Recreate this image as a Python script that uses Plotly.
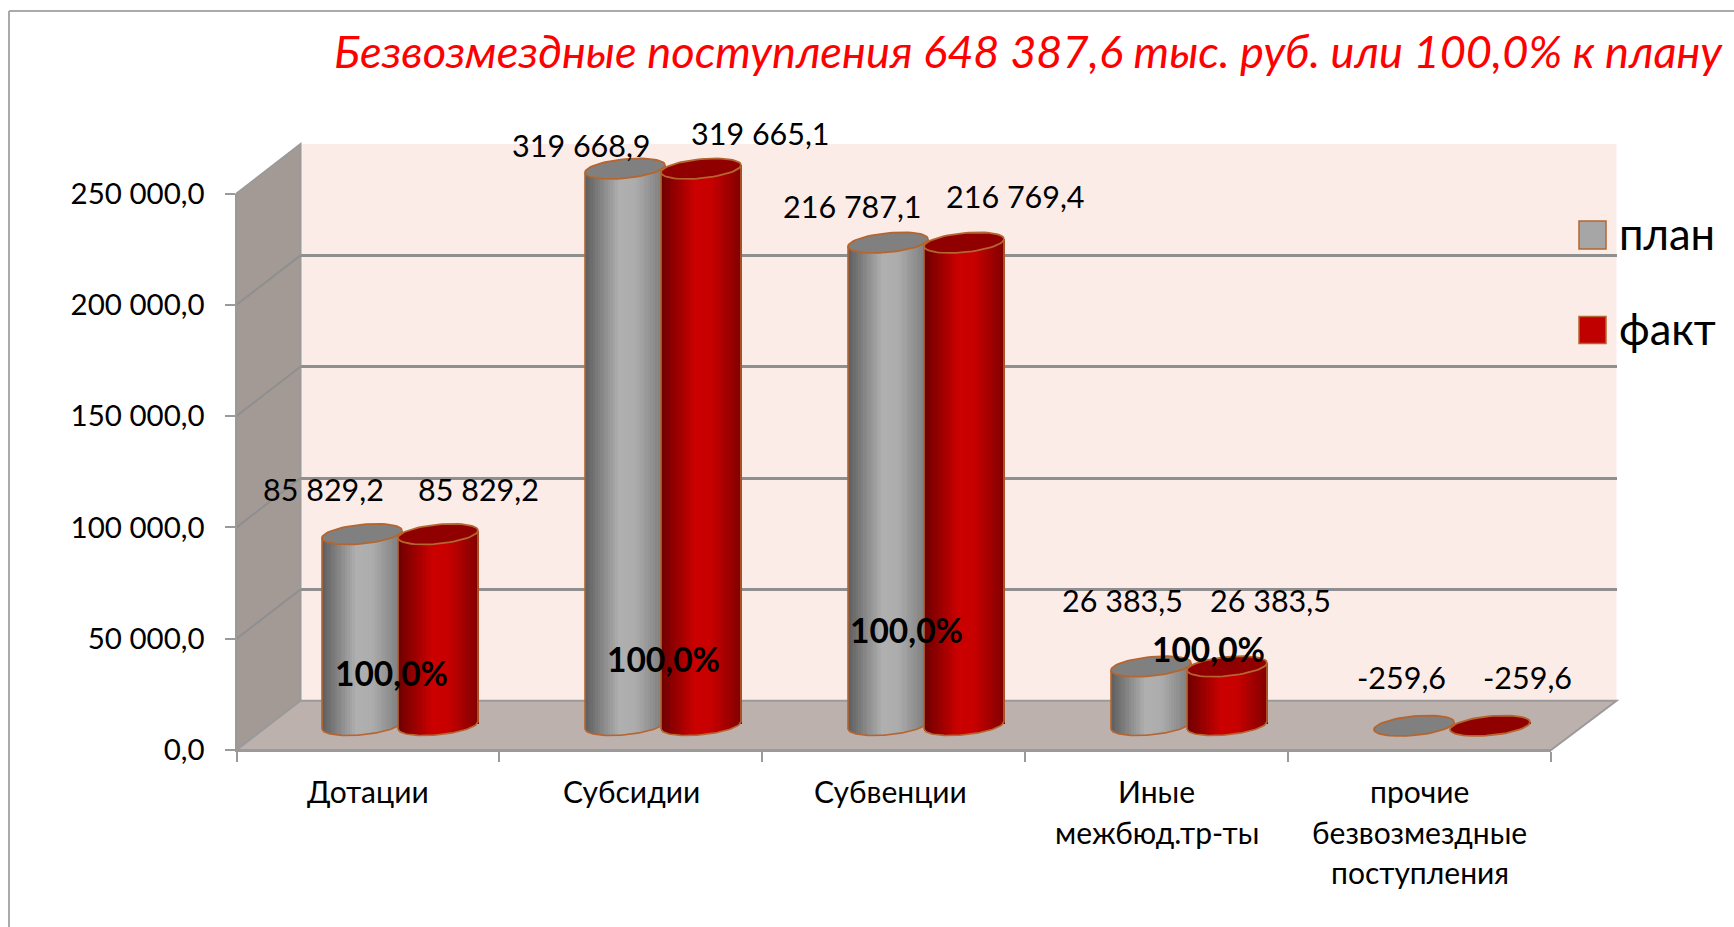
import numpy as np
import plotly.graph_objects as go

# ---------- data ----------
categories = ["Дотации", "Субсидии", "Субвенции", "Иные<br>межбюд.тр-ты",
              "прочие<br>безвозмездные<br>поступления"]
plan_values = [85829.2, 319668.9, 216787.1, 26383.5, -259.6]
fact_values = [85829.2, 319665.1, 216769.4, 26383.5, -259.6]
percent_labels = ["100,0%", "100,0%", "100,0%", "100,0%"]
y_ticks = [0, 50000, 100000, 150000, 200000, 250000]
title_text = "Безвозмездные поступления 648 387,6 тыс. руб. или 100,0% к плану"
series_names = ["план", "факт"]

# ---------- geometry (pixels of the 1734x927 page) ----------
W, H = 1734, 927
def X(p): return p / W
def Y(p): return 1 - p / H

AXIS_MAX = 250000
FRONT_L, FRONT_R, FRONT_0, FRONT_TOP = 236.5, 1551, 750, 193.5
BACK_L, BACK_R, BACK_0, BACK_TOP = 300.5, 1616.5, 700.7, 144
MID_L, MID_R, MID_0 = 268.5, 1583.5, 725.2
PX_PER_UNIT = (FRONT_0 - FRONT_TOP) / AXIS_MAX
U_PER_PX = 1 / PX_PER_UNIT
CAT_PX = (MID_R - MID_L) / 5
A_PX, B_PX, TILT_PX = 40.0, 9.6, 3.7
OFFSET_PX = 38.0
N_STRIPS = 32

PLOT_TOP, PLOT_BOTTOM = 125, 765
y3_range = [(MID_0 - PLOT_BOTTOM) * U_PER_PX, (MID_0 - PLOT_TOP) * U_PER_PX]

FONT = "Lato, Carlito, 'Open Sans', sans-serif"
GRID = "#8f8f8f"
EDGE = "#b5652f"

GRADIENTS = {
    "план": [(-1.0, (0x5e, 0x5e, 0x5e)), (-0.15, (0xb0, 0xb0, 0xb0)), (0.25, (0xad, 0xad, 0xad)), (1.0, (0x7a, 0x7a, 0x7a))],
    "факт": [(-1.0, (0x6e, 0x00, 0x00)), (-0.15, (0xcc, 0x00, 0x00)), (0.25, (0xc8, 0x00, 0x00)), (1.0, (0x80, 0x00, 0x00))],
}
CAP = {"план": "#808080", "факт": "#900000"}
SWATCH = {"план": "#a6a6a6", "факт": "#c00000"}
SERIES_AXES = {"план": ("x3", "y3"), "факт": ("x4", "y4")}


def grad(name, u):
    stops = GRADIENTS[name]
    xs = [s[0] for s in stops]
    rgb = [np.interp(u, xs, [s[1][c] for s in stops]) for c in range(3)]
    return "rgb(%d,%d,%d)" % tuple(rgb)


fig = go.Figure()

# back-wall gridlines need a subplot of their own
fig.add_trace(go.Scatter(x=[None], y=[None], xaxis="x", yaxis="y", showlegend=False, hoverinfo="skip"))
fig.add_trace(go.Scatter(x=[None], y=[None], xaxis="x2", yaxis="y2", showlegend=False, hoverinfo="skip"))

centers = np.arange(len(categories)) + 0.5
edges = np.linspace(-1, 1, N_STRIPS + 1)
mid_u = (edges[:-1] + edges[1:]) / 2
a = A_PX / CAT_PX
t = np.linspace(0, 2 * np.pi, 61)
arc_u = np.linspace(-1, 1, 41)

for name, vals, sign in zip(series_names, [plan_values, fact_values], [-1, 1]):
    xa, ya = SERIES_AXES[name]
    v = np.minimum(np.array(vals, dtype=float), AXIS_MAX)
    cx = centers + sign * OFFSET_PX / CAT_PX
    for u in mid_u:
        bottom = (TILT_PX * u - B_PX * np.sqrt(max(0, 1 - u * u))) * U_PER_PX
        top = v + TILT_PX * u * U_PER_PX
        fig.add_trace(go.Bar(
            x=cx + a * u, y=top - bottom, base=[bottom] * len(v),
            width=2 * a / N_STRIPS * 1.05, xaxis=xa, yaxis=ya,
            marker=dict(color=grad(name, u), line=dict(width=0)),
            showlegend=False, hoverinfo="skip"))
    ex, ey, ox, oy = [], [], [], []
    for c, val in zip(cx, v):
        ex += list(c + a * np.cos(t)) + [None]
        ey += list(val + (TILT_PX * np.cos(t) + B_PX * np.sin(t)) * U_PER_PX) + [None]
        ax_ = c + a * arc_u
        ay_ = (TILT_PX * arc_u - B_PX * np.sqrt(1 - arc_u ** 2)) * U_PER_PX
        ox += [c - a] + list(ax_) + [c + a, None]
        oy += [val - TILT_PX * U_PER_PX] + list(ay_) + [val + TILT_PX * U_PER_PX, None]
    fig.add_trace(go.Scatter(x=ox, y=oy, mode="lines", line=dict(color=EDGE, width=1.6),
                             xaxis=xa, yaxis=ya, showlegend=False, hoverinfo="skip"))
    fig.add_trace(go.Scatter(x=ex, y=ey, mode="lines", fill="toself", fillcolor=CAP[name],
                             line=dict(color=EDGE, width=1.8), xaxis=xa, yaxis=ya,
                             showlegend=False, hoverinfo="skip"))

# ---------- walls ----------
def poly(points, fill, line=None, width=0, layer="below"):
    path = "M" + " L".join(f"{X(x):.5f},{Y(y):.5f}" for x, y in points) + " Z"
    return dict(type="path", xref="paper", yref="paper", path=path, fillcolor=fill,
                line=dict(color=line or fill, width=width), layer=layer)

def seg(x0, y0, x1, y1, color=GRID, width=2, layer="below"):
    return dict(type="line", xref="paper", yref="paper", x0=X(x0), y0=Y(y0), x1=X(x1), y1=Y(y1),
                line=dict(color=color, width=width), layer=layer)

shapes = [
    seg(9, 11, W, 11, "#aaaaaa", 2),
    seg(9, 11, 9, H, "#aaaaaa", 2),
    poly([(BACK_L, BACK_TOP), (BACK_R, BACK_TOP), (BACK_R, BACK_0), (BACK_L, BACK_0)], "#fcece8"),
    poly([(FRONT_L, FRONT_TOP), (BACK_L, BACK_TOP), (BACK_L, BACK_0), (FRONT_L, FRONT_0)], "#a39a95", "#9a9a9a", 2),
    poly([(FRONT_L, FRONT_0), (FRONT_R, FRONT_0), (BACK_R, BACK_0), (BACK_L, BACK_0)], "#bdb1ae", "#9a9a9a", 2),
]
for v in y_ticks[1:-1]:
    yf = FRONT_0 - v * PX_PER_UNIT
    yb = BACK_0 - v * (BACK_0 - BACK_TOP) / AXIS_MAX
    shapes.append(seg(FRONT_L, yf, BACK_L, yb, "#8f8f8f", 2))

# legend
legend_y = {"план": (221, 249, 233), "факт": (316.5, 343.5, 328)}
annotations = []
for name in series_names:
    y0, y1, yc = legend_y[name]
    shapes.append(dict(type="rect", xref="paper", yref="paper", x0=X(1579), x1=X(1606), y0=Y(y1), y1=Y(y0),
                       fillcolor=SWATCH[name], line=dict(color=EDGE, width=1.5), layer="above"))
    annotations.append(dict(xref="paper", yref="paper", x=X(1617), y=Y(yc), text=name, showarrow=False,
                            xanchor="left", yanchor="middle", font=dict(family=FONT, size=43.5, color="#000")))

# ---------- text ----------
def fmt(v):
    return f"{v:,.1f}".replace(",", " ").replace(".", ",")

plan_pos = [(323, 489), (581, 145), (852, 206), (1122.5, 600), (1401, 677)]
fact_pos = [(478, 489), (760, 133), (1015, 196), (1270, 600), (1527, 677)]
for vals, pos in ((plan_values, plan_pos), (fact_values, fact_pos)):
    for v, (x, y) in zip(vals, pos):
        annotations.append(dict(xref="paper", yref="paper", x=X(x), y=Y(y), text=fmt(v), showarrow=False,
                                xanchor="center", yanchor="middle", font=dict(family=FONT, size=30.5, color="#000")))

pct_pos = [(391.5, 673), (663.5, 659), (906, 629.5), (1208, 649)]
for txt, (x, y) in zip(percent_labels, pct_pos):
    annotations.append(dict(xref="paper", yref="paper", x=X(x), y=Y(y), text=f"<b>{txt}</b>", showarrow=False,
                            xanchor="center", yanchor="middle", font=dict(family=FONT, size=33.5, color="#000")))

cat_w = (FRONT_R - FRONT_L) / 5
cat_shift = [0, 1, -3, 0, 0]
for i, cat in enumerate(categories):
    for j, line in enumerate(cat.split("<br>")):
        annotations.append(dict(xref="paper", yref="paper", x=X(FRONT_L + (i + 0.5) * cat_w + cat_shift[i]),
                                y=Y(791 + j * 40.5), text=line, showarrow=False, xanchor="center", yanchor="middle",
                                font=dict(family=FONT, size=30, color="#000")))

hidden = dict(showgrid=False, zeroline=False, showticklabels=False, ticks="", showline=False)

fig.update_layout(
    width=W, height=H, margin=dict(l=0, r=0, t=0, b=0, pad=0, autoexpand=False),
    paper_bgcolor="white", plot_bgcolor="rgba(0,0,0,0)",
    barmode="overlay", bargap=0, showlegend=False, separators=", ",
    font=dict(family=FONT, color="#000"),
    title=dict(text=f"<i>{title_text}</i>", x=1722 / W, xanchor="right", y=Y(52), yanchor="middle",
               xref="container", yref="container", automargin=False,
               font=dict(family=FONT, size=45.2, color="#ff0000")),
    xaxis=dict(domain=[X(BACK_L), X(BACK_R)], range=[0, 1], anchor="y", **hidden),
    yaxis=dict(domain=[Y(BACK_0), Y(BACK_TOP)], range=[0, AXIS_MAX], anchor="x", tickvals=y_ticks,
               showgrid=True, gridcolor=GRID, gridwidth=3, zeroline=False, showticklabels=False, ticks=""),
    xaxis2=dict(domain=[X(FRONT_L), X(FRONT_R)], range=[0, 5], anchor="y2", tickvals=list(range(6)),
                ticks="outside", ticklen=10, tickwidth=1.5, tickcolor="#9a9a9a", showticklabels=False,
                showgrid=False, zeroline=False, showline=True, linecolor="#9a9a9a", linewidth=2),
    yaxis2=dict(domain=[Y(FRONT_0), Y(FRONT_TOP)], range=[0, AXIS_MAX], anchor="x2", tickvals=y_ticks,
                tickformat=",.1f", ticks="outside", ticklen=10, tickwidth=1.5, tickcolor="#9a9a9a",
                ticklabelstandoff=14, tickfont=dict(family=FONT, size=29.5, color="#000"),
                showgrid=False, zeroline=False, showline=True, linecolor="#9a9a9a", linewidth=2),
    xaxis3=dict(domain=[X(MID_L), X(MID_R)], range=[0, 5], anchor="y3", **hidden),
    yaxis3=dict(domain=[Y(PLOT_BOTTOM), Y(PLOT_TOP)], range=y3_range, anchor="x3", **hidden),
    xaxis4=dict(domain=[X(MID_L), X(MID_R)], range=[0, 5], anchor="y4", **hidden),
    yaxis4=dict(domain=[Y(PLOT_BOTTOM), Y(PLOT_TOP)], range=y3_range, anchor="x4", **hidden),
    shapes=shapes, annotations=annotations,
)

fig.write_html("out.html", config={"displayModeBar": False},
               post_script="document.body.style.margin='0';document.body.style.overflow='hidden';")
